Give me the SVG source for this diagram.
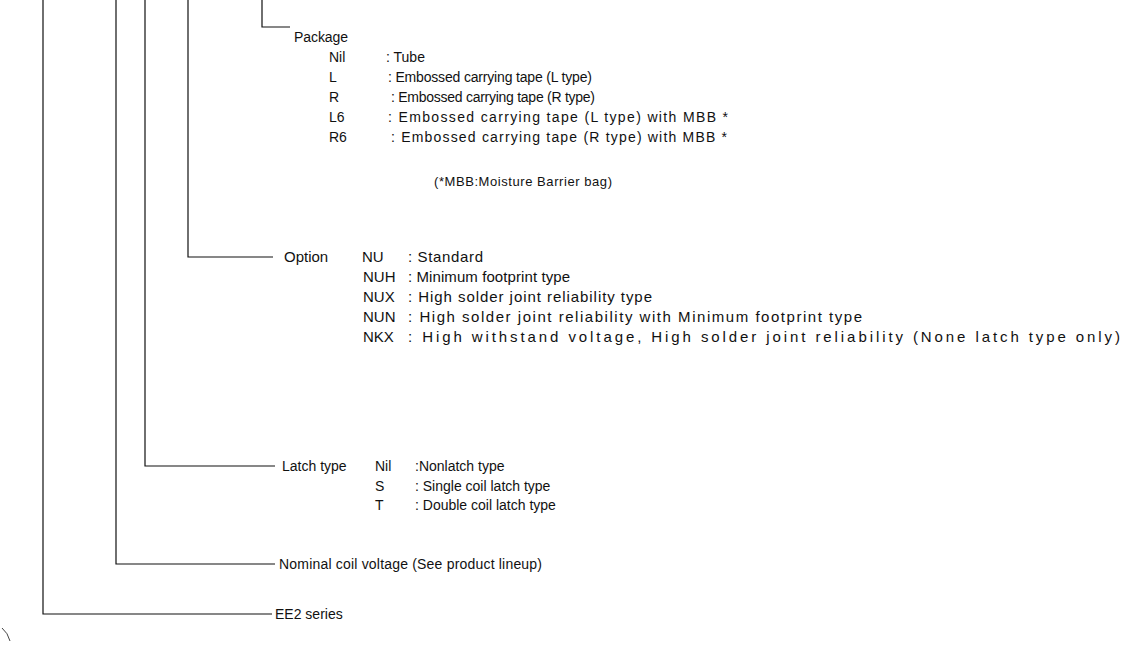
<svg xmlns="http://www.w3.org/2000/svg" width="1130" height="645" viewBox="0 0 1130 645">
<style>
text{font-family:"Liberation Sans",Arial,sans-serif;font-size:14px;fill:#111}
.s{font-size:13px}
#option text{font-size:15px}
.c polyline{stroke:#111;stroke-width:1.2;fill:none}
</style>
<rect width="1130" height="645" fill="#fff"/>
<g class="c" id="connectors">
<polyline points="262,0 262,27 290,27"/>
<polyline points="188,0 188,257 273,257"/>
<polyline points="145,0 145,466 275,466"/>
<polyline points="116,0 116,564 275,564"/>
<polyline points="43,0 43,614 272,614"/>
<path d="M2,628 Q8,633 10,641" stroke="#444" stroke-width="1" fill="none"/>
</g>
<g id="package">
<text x="294" y="42" textLength="54" lengthAdjust="spacing">Package</text>
<text x="329" y="62">Nil</text><text x="386" y="62">: Tube</text>
<text x="329" y="82">L</text><text x="388" y="82" textLength="204" lengthAdjust="spacing">: Embossed carrying tape (L type)</text>
<text x="329" y="102">R</text><text x="391" y="102" textLength="204" lengthAdjust="spacing">: Embossed carrying tape (R type)</text>
<text x="329" y="122">L6</text><text x="388" y="122" textLength="340" lengthAdjust="spacing">: Embossed carrying tape (L type)  with MBB *</text>
<text x="329" y="142">R6</text><text x="391" y="142" textLength="336" lengthAdjust="spacing">: Embossed carrying tape (R type) with MBB *</text>
<text class="s" x="434" y="186" textLength="178" lengthAdjust="spacing">(*MBB:Moisture Barrier bag)</text>
</g>
<g id="option">
<text x="284" y="262">Option</text>
<text x="362" y="262">NU</text><text x="408" y="262" textLength="75" lengthAdjust="spacing">: Standard</text>
<text x="363" y="282">NUH</text><text x="408" y="282" textLength="162" lengthAdjust="spacing">: Minimum footprint type</text>
<text x="363" y="302">NUX</text><text x="408" y="302" textLength="244" lengthAdjust="spacing">: High solder joint reliability type</text>
<text x="363" y="322">NUN</text><text x="408" y="322" textLength="454" lengthAdjust="spacing">: High solder joint reliability with Minimum footprint type</text>
<text x="363" y="342">NKX</text><text x="408" y="342" textLength="712" lengthAdjust="spacing">: High withstand voltage, High solder joint reliability (None latch type only)</text>
</g>
<g id="latch">
<text x="282" y="471">Latch type</text>
<text x="375" y="471">Nil</text><text x="415" y="471">:Nonlatch type</text>
<text x="375" y="491">S</text><text x="415" y="491">: Single coil latch type</text>
<text x="375" y="510">T</text><text x="415" y="510">: Double coil latch type</text>
</g>
<g id="voltage">
<text x="279" y="569" textLength="263" lengthAdjust="spacing">Nominal coil voltage (See product lineup)</text>
</g>
<g id="series">
<text x="275" y="619">EE2 series</text>
</g>
</svg>
